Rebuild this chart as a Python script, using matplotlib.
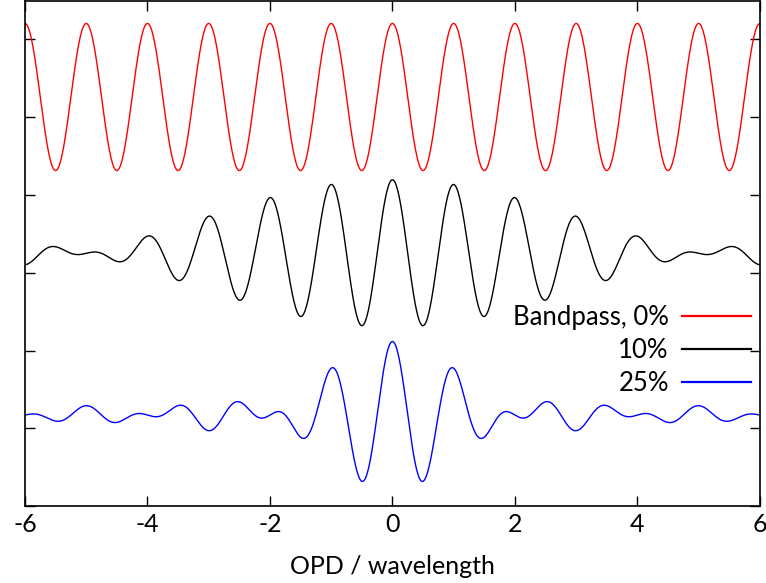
import numpy as np
import matplotlib
matplotlib.use("Agg")
import matplotlib.pyplot as plt

# legend entries and the bandpass (half width, fraction of wavenumber) of each curve
labels = ["Bandpass, 0%", "10%", "25%"]
bandpass = [0.0, 0.10, 0.25]
colors = ["#ff0000", "#000000", "#0000ff"]

# vertical offset of each trace and fringe amplitude (arbitrary units)
offsets = [5.26, 3.25, 1.17]
amplitude = 0.946

xticks = [-6, -4, -2, 0, 2, 4, 6]
yticks = [0, 1, 2, 3, 4, 5, 6]

plt.rcParams['font.family'] = ['Lato', 'DejaVu Sans']
plt.rcParams['axes.unicode_minus'] = False

fig = plt.figure(figsize=(7.66, 5.83), dpi=100)
ax = fig.add_axes([0.0326, 0.132, 0.9594, 0.867])

opd = np.linspace(-6, 6, 2401)
for lab, bp, c, off in zip(labels, bandpass, colors, offsets):
    # interferogram of a top-hat band: fringe times sinc envelope
    fringe = np.cos(2 * np.pi * opd) * np.sinc(2 * bp * opd)
    ax.plot(opd, off + amplitude * fringe, color=c, lw=1.0, label=lab)

ax.set_xlim(-6, 6)
ax.set_ylim(0, 6.5)
ax.set_xticks(xticks)
ax.set_yticks(yticks)
ax.set_yticklabels([])
ax.tick_params(direction='in', length=7, width=1, top=True, right=True,
               labelsize=18, pad=5)
for s in ax.spines.values():
    s.set_linewidth(1.2)
ax.set_xlabel("OPD / wavelength", fontsize=18, labelpad=14)

leg = ax.legend(loc='upper right', bbox_to_anchor=(0.988, 0.397), frameon=False,
                markerfirst=False, fontsize=18.5, handlelength=2.7, handletextpad=0.5,
                labelspacing=0.3, borderpad=0, borderaxespad=0)
for h in leg.get_lines():
    h.set_linewidth(1.6)

fig.savefig("out.png", dpi=100)
